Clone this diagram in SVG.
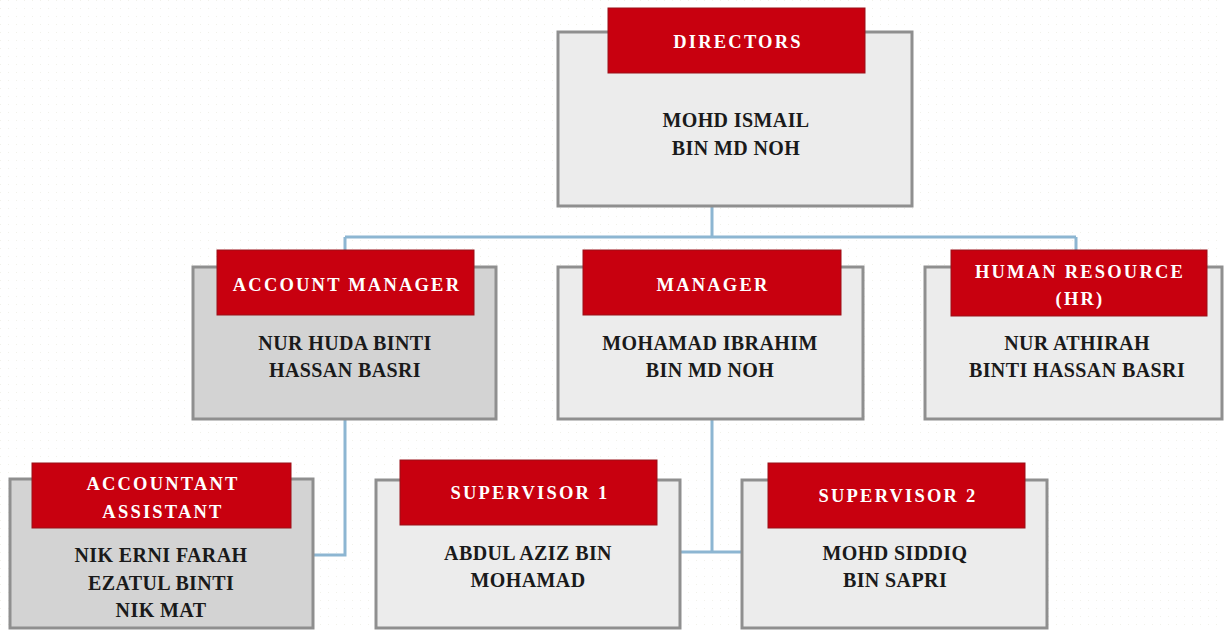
<svg xmlns="http://www.w3.org/2000/svg" width="1224" height="630" viewBox="0 0 1224 630">
<style>
.box{stroke:#8f8f8f;stroke-width:3;}
.lt{fill:#ececec;}
.dk{fill:#d3d3d3;}
.hdr{fill:#c8000f;stroke:#9a1018;stroke-width:1;}
.ht{font-family:"Liberation Serif",serif;font-weight:bold;font-size:18.5px;letter-spacing:2.2px;fill:#ffffff;text-anchor:middle;}
.nt{font-family:"Liberation Serif",serif;font-weight:bold;font-size:20px;letter-spacing:0.4px;fill:#1a1a1a;text-anchor:middle;}
.con{fill:none;stroke:#8db6d2;stroke-width:3;}
</style>
<defs>
<pattern id="dots" width="8" height="8" patternUnits="userSpaceOnUse">
<rect x="0" y="0" width="1" height="1" fill="#f1f1ea"/>
</pattern>
</defs>
<rect width="1224" height="630" fill="#ffffff"/>
<rect width="1224" height="630" fill="url(#dots)"/>
<g id="connectors">
<path class="con" d="M712 205 V237 M345 237 H1076 M345 237 V250 M1076 237 V250"/>
<path class="con" d="M345 419 V555 H313"/>
<path class="con" d="M712 419 V552 M680 552 H742"/>
</g>
<g id="directors">
<rect class="box lt" x="558" y="32" width="354" height="174"/>
<rect class="hdr" x="608" y="8" width="257" height="65"/>
<text class="ht" x="738" y="48">DIRECTORS</text>
<text class="nt" x="736" y="127">MOHD ISMAIL</text>
<text class="nt" x="736" y="155">BIN MD NOH</text>
</g>
<g id="account-manager">
<rect class="box dk" x="193" y="267" width="303" height="152"/>
<rect class="hdr" x="217" y="250" width="257" height="65"/>
<text class="ht" x="347" y="291">ACCOUNT MANAGER</text>
<text class="nt" x="345" y="350">NUR HUDA BINTI</text>
<text class="nt" x="345" y="377">HASSAN BASRI</text>
</g>
<g id="manager">
<rect class="box lt" x="558" y="267" width="305" height="152"/>
<rect class="hdr" x="583" y="250" width="258" height="65"/>
<text class="ht" x="713" y="291">MANAGER</text>
<text class="nt" x="710" y="350">MOHAMAD IBRAHIM</text>
<text class="nt" x="710" y="377">BIN MD NOH</text>
</g>
<g id="human-resource">
<rect class="box lt" x="925" y="267" width="297" height="152"/>
<rect class="hdr" x="951" y="250" width="256" height="66"/>
<text class="ht" x="1080" y="278">HUMAN RESOURCE</text>
<text class="ht" x="1080" y="305">(HR)</text>
<text class="nt" x="1077" y="350">NUR ATHIRAH</text>
<text class="nt" x="1077" y="377">BINTI HASSAN BASRI</text>
</g>
<g id="accountant-assistant">
<rect class="box dk" x="10" y="479" width="303" height="149"/>
<rect class="hdr" x="32" y="463" width="259" height="65"/>
<text class="ht" x="163" y="490">ACCOUNTANT</text>
<text class="ht" x="163" y="518">ASSISTANT</text>
<text class="nt" x="161" y="562">NIK ERNI FARAH</text>
<text class="nt" x="161" y="590">EZATUL BINTI</text>
<text class="nt" x="161" y="617">NIK MAT</text>
</g>
<g id="supervisor-1">
<rect class="box lt" x="376" y="480" width="304" height="148"/>
<rect class="hdr" x="400" y="460" width="257" height="65"/>
<text class="ht" x="530" y="499">SUPERVISOR 1</text>
<text class="nt" x="528" y="560">ABDUL AZIZ BIN</text>
<text class="nt" x="528" y="587">MOHAMAD</text>
</g>
<g id="supervisor-2">
<rect class="box lt" x="742" y="480" width="305" height="148"/>
<rect class="hdr" x="768" y="463" width="257" height="65"/>
<text class="ht" x="898" y="502">SUPERVISOR 2</text>
<text class="nt" x="895" y="560">MOHD SIDDIQ</text>
<text class="nt" x="895" y="587">BIN SAPRI</text>
</g>
</svg>
